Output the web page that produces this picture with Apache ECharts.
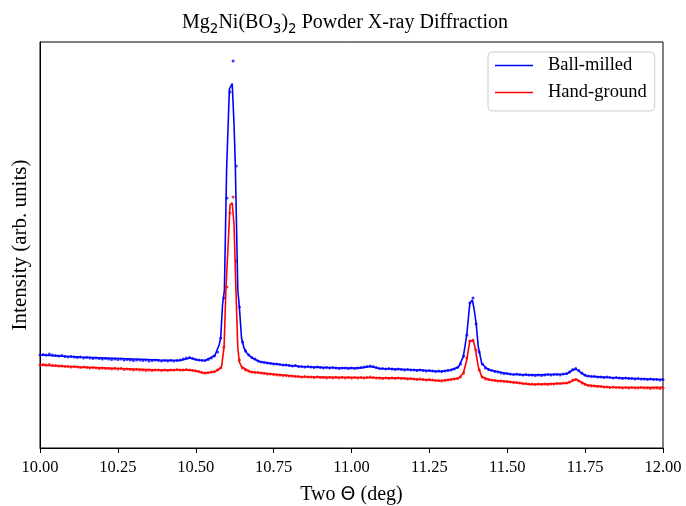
<!DOCTYPE html>
<html>
<head>
<meta charset="utf-8">
<script src="https://cdn.jsdelivr.net/npm/echarts@6/dist/echarts.min.js"></script>
<style>
  html, body { margin: 0; padding: 0; background: #fff; }
  #chart { width: 686px; height: 506px; }
</style>
</head>
<body>
<div id="chart"></div>
<script>
const X_TICKS = [10.0, 10.25, 10.5, 10.75, 11.0, 11.25, 11.5, 11.75, 12.0];
const SERIES_NAMES = ["Ball-milled", "Hand-ground"];

// measured scan: fixed 0.01 deg step from 10.00 to 12.00
const SCAN_START = 10.0;
const SCAN_STEP = 0.01;

const ballMilledCounts = [
  93, 93.5, 93, 94, 93, 92.5, 92, 92.5, 91.5, 91,
  91.5, 91, 90.5, 91, 90, 90.5, 90, 89.5, 90, 89.5,
  89, 89.5, 89, 88.5, 89, 88.5, 89, 88, 88.5, 88,
  87.5, 88, 88, 87.5, 88, 87, 87.5, 88, 87.5, 87,
  87.5, 87, 87.5, 87, 87.5, 88, 89, 90, 90.5, 89.5,
  88.5, 88, 87.5, 87.5, 88.5, 90, 92, 96, 110, 150,
  250, 356, 387, 282, 141, 106, 97, 93, 90.5, 89,
  87, 86, 85.5, 85, 84.5, 84, 84, 83.5, 83, 83,
  82.5, 82, 82.5, 81.5, 81.5, 81, 81.5, 81, 80.5, 81,
  80.5, 80, 80.5, 80, 80.5, 80, 79.5, 80, 80, 79.5,
  80, 79.5, 80, 80.5, 81, 81.5, 82, 81.5, 80.5, 79.5,
  79.5, 79, 79.5, 79, 78.5, 79, 78.5, 78, 78.5, 78,
  78, 77.5, 78, 77.5, 77, 77.5, 77, 76.5, 77, 76.5,
  77, 77.5, 78, 79, 80.5, 84, 92, 113, 145, 150,
  124, 96, 84, 80, 78.5, 77.5, 76.5, 76, 75, 74.5,
  74.5, 74, 73.5, 74, 73.5, 73, 73.5, 73, 73, 72.5,
  73, 72.5, 73, 73.5, 73, 73.5, 73.5, 73, 74, 74.5,
  76, 78.5, 79.5, 77.5, 75, 73, 72, 71.5, 71.5, 71,
  71, 70.5, 71, 70.5, 70, 70.5, 70, 69.5, 70, 69.5,
  69.5, 69, 69.5, 69, 69, 68.5, 69, 68.5, 68.5, 68,
  68.5,
];

const handGroundCounts = [
  83, 83.5, 83, 83.5, 82.5, 82.5, 82, 82, 81.5, 81.5,
  81, 81.5, 81, 80.5, 81, 80.5, 80, 80.5, 80, 79.5,
  80, 79.5, 79.5, 79, 79.5, 79, 79.5, 78.5, 79, 78.5,
  78, 78.5, 78, 78, 77.5, 78, 77.5, 78, 78, 77.5,
  78, 77.5, 78, 78, 78.5, 78, 78, 78.5, 78, 77.5,
  77, 76.5, 75.5, 75, 75.5, 76, 76.5, 78, 80, 101,
  161, 235, 251, 187, 88, 80, 78, 77, 76, 75.5,
  75.5, 75, 74.5, 74, 74, 73.5, 73, 73, 72.5, 72.5,
  72, 72, 71.5, 71.5, 71, 71.5, 71, 71, 70.5, 71,
  70.5, 70.5, 70, 70.5, 70, 70.5, 70, 70.5, 70, 70.5,
  70, 70.5, 70, 70.5, 70, 70.5, 71, 70.5, 70, 70,
  69.5, 70, 69.5, 70, 69.5, 70, 69.5, 69.5, 69, 69.5,
  69, 68.5, 69, 68.5, 68, 68.5, 68, 67.5, 67.5, 67,
  67.5, 68, 68.5, 69, 69.5, 71, 75, 90, 107, 108,
  98, 78, 71, 69, 68.5, 68, 67.5, 67, 67, 66.5,
  66.5, 66, 65.5, 65.5, 65, 64.5, 64.5, 64, 64, 63.5,
  64, 63.5, 64, 63.5, 64, 64, 64.5, 64.5, 65, 65,
  66, 68, 68.5, 67, 65, 63.5, 62.5, 62, 62, 61.5,
  61.5, 61, 61, 60.5, 61, 60.5, 60.5, 60, 60.5, 60,
  60.5, 60, 60, 60.5, 60, 60, 59.5, 60, 60, 59.5,
  60,
];

// fitted profiles (two theta, intensity)
const ballMilledFitTheta = [
  10.0, 10.128, 10.257, 10.385, 10.449, 10.482, 10.507, 10.53, 10.552, 10.562,
  10.575, 10.58, 10.586, 10.592, 10.599, 10.608, 10.613, 10.617, 10.623, 10.627,
  10.635, 10.64, 10.647, 10.655, 10.664, 10.681, 10.706, 10.77, 10.835, 10.963,
  11.03, 11.059, 11.091, 11.22, 11.284, 11.316, 11.343, 11.359, 11.37, 11.38,
  11.388, 11.393, 11.4, 11.407, 11.418, 11.432, 11.445, 11.509, 11.573, 11.659,
  11.691, 11.705, 11.721, 11.737, 11.753, 11.83, 11.926, 12.0,
];
const ballMilledFitValue = [
  93, 91, 89.5, 88, 87.5, 90, 88, 87.5, 91, 93,
  103, 110, 143, 158, 278, 359, 362, 364.5, 323, 283,
  158, 141, 110, 100, 95, 90, 86.3, 83.5, 81.5, 80,
  80, 81.5, 79.5, 78, 76.5, 78, 80.7, 91.3, 113, 145,
  148, 140, 125, 101.3, 84.7, 80, 78, 73.7, 73, 73.7,
  74, 77, 79, 75, 72, 70.5, 69.3, 68.5,
];

const handGroundFitTheta = [
  10.0, 10.128, 10.257, 10.385, 10.465, 10.498, 10.523, 10.546, 10.562, 10.575,
  10.583, 10.591, 10.597, 10.604, 10.61, 10.617, 10.623, 10.629, 10.635, 10.64,
  10.647, 10.674, 10.706, 10.835, 11.027, 11.156, 11.284, 11.343, 11.359, 11.37,
  11.38, 11.386, 11.391, 11.396, 11.407, 11.418, 11.445, 11.509, 11.573, 11.691,
  11.705, 11.721, 11.737, 11.756, 11.83, 11.926, 12.0,
];
const handGroundFitValue = [
  83, 81, 79.5, 78, 78, 77.5, 75, 75.5, 76.3, 79,
  81.3, 101.3, 160, 203, 243, 245.3, 223, 158, 100, 86,
  81.3, 76.3, 75.3, 71.3, 70.5, 70, 67.3, 69.7, 74.7, 88,
  107.3, 108.7, 107, 101.3, 81.3, 71.3, 68, 66.3, 63.5, 64.7,
  66.5, 68.7, 66, 63, 60.7, 60.5, 60.7,
];

const COLORS = ["#0000ff", "#ff0000"];
const SERIF = "'Liberation Serif', 'DejaVu Serif', serif";
const SANS = "'DejaVu Sans', sans-serif";

function scanPoints(counts) {
  return counts.map((v, i) => [+(SCAN_START + i * SCAN_STEP).toFixed(2), v]);
}

function pairUp(xs, ys) {
  return xs.map((x, i) => [x, ys[i]]);
}

const chart = echarts.init(document.getElementById("chart"), undefined, { renderer: "canvas" });

const lineSeries = (name, data, color) => ({
  name,
  type: "line",
  data,
  showSymbol: false,
  symbol: "none",
  lineStyle: { color, width: 1.6 },
  itemStyle: { color },
  z: 3,
});

const dotSeries = (name, data, color) => ({
  name,
  type: "scatter",
  data,
  symbolSize: 3,
  itemStyle: { color },
  z: 2,
});

chart.setOption({
  animation: false,
  title: {
    text: "{n|Mg}{s|2}{n|Ni(BO}{s|3}{n|)}{s|2}{n| Powder X-ray Diffraction}",
    left: 345,
    textAlign: "center",
    top: 10,
    padding: 0,
    textStyle: {
      fontWeight: "normal",
      rich: {
        n: { fontFamily: SERIF, fontSize: 20, color: "#000", lineHeight: 26, verticalAlign: "middle" },
        s: { fontFamily: SANS, fontSize: 13.5, color: "#000", lineHeight: 13, verticalAlign: "bottom" },
      },
    },
  },
  legend: {
    data: SERIES_NAMES,
    orient: "vertical",
    left: 488,
    top: 52,
    padding: [4, 8, 9, 7],
    itemWidth: 38,
    itemHeight: 16,
    itemGap: 8,
    icon: "path://M0,0L38,0L38,1.6L0,1.6Z",
    backgroundColor: "#fff",
    borderColor: "#cccccc",
    borderWidth: 1,
    borderRadius: 4,
    textStyle: { fontFamily: SERIF, fontSize: 18.5, color: "#000", padding: [0, 0, 0, 10] },
  },
  grid: {
    left: 40,
    right: 23,
    top: 42,
    bottom: 58,
    outerBoundsMode: "none",
    containLabel: false,
    show: true,
    borderColor: "#000",
    borderWidth: 1,
    backgroundColor: "transparent",
  },
  xAxis: {
    type: "value",
    min: X_TICKS[0],
    max: X_TICKS[X_TICKS.length - 1],
    interval: 0.25,
    name: "{t|Two }{th|Θ}{t| (deg)}",
    nameLocation: "middle",
    nameGap: 37,
    nameTextStyle: {
      rich: {
        t: { fontFamily: SERIF, fontSize: 20, color: "#000" },
        th: { fontFamily: SANS, fontSize: 19, color: "#000" },
      },
    },
    axisLine: { onZero: false, lineStyle: { color: "#000", width: 1 } },
    axisTick: { show: true, length: 5, inside: false, lineStyle: { color: "#000" } },
    axisLabel: {
      fontFamily: SERIF,
      fontSize: 16.5,
      color: "#000",
      margin: 11,
      formatter: (v) => v.toFixed(2),
    },
    splitLine: { show: false },
  },
  yAxis: {
    type: "value",
    min: 0,
    max: 406,
    name: "Intensity (arb. units)",
    nameLocation: "middle",
    nameGap: 9,
    nameTextStyle: { fontFamily: SERIF, fontSize: 21, color: "#000" },
    axisLine: { show: true, lineStyle: { color: "#000", width: 1 } },
    axisTick: { show: false },
    axisLabel: { show: false },
    splitLine: { show: false },
  },
  series: [
    lineSeries(SERIES_NAMES[0], pairUp(ballMilledFitTheta, ballMilledFitValue), COLORS[0]),
    lineSeries(SERIES_NAMES[1], pairUp(handGroundFitTheta, handGroundFitValue), COLORS[1]),
    dotSeries("Ball-milled data", scanPoints(ballMilledCounts), COLORS[0]),
    dotSeries("Hand-ground data", scanPoints(handGroundCounts), COLORS[1]),
  ],
});
</script>
</body>
</html>
